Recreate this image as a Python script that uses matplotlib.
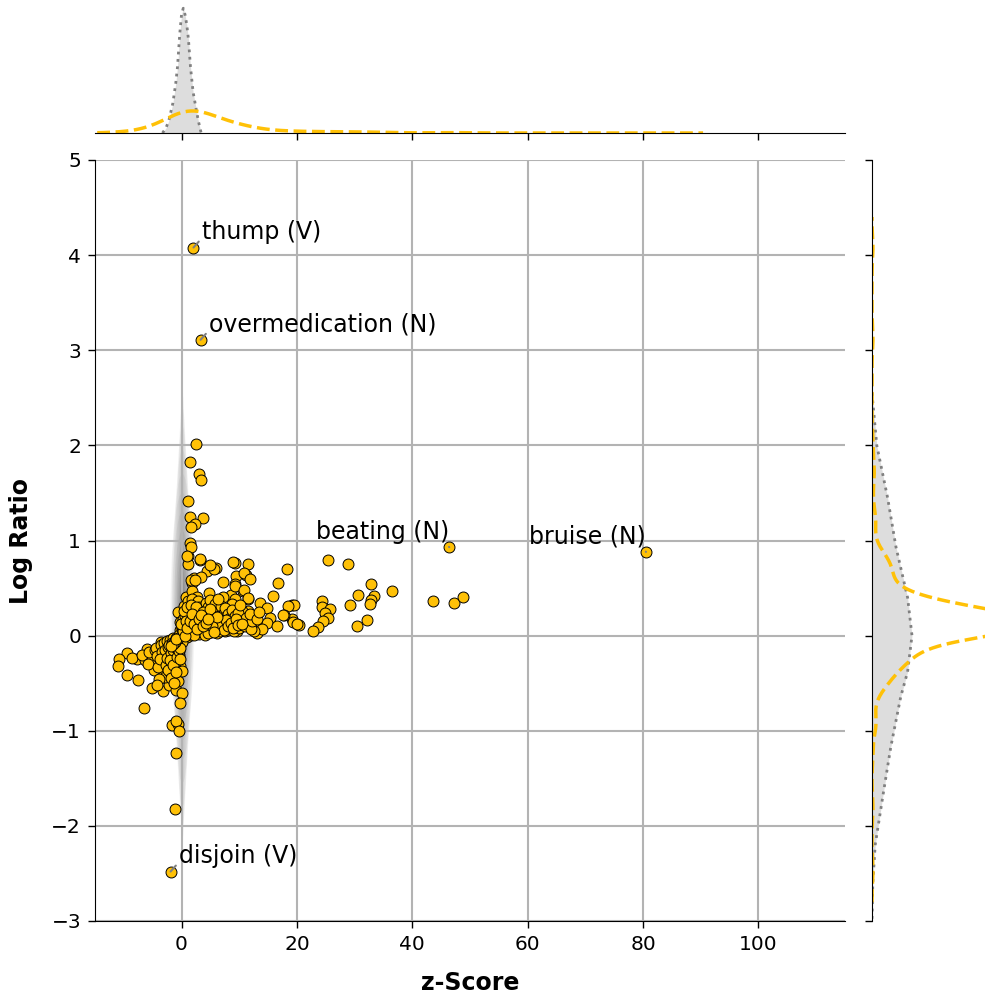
import numpy as np
import matplotlib
matplotlib.use("Agg")
import matplotlib.pyplot as plt
from matplotlib.patches import Ellipse

# --- word scores (z-score, log ratio) ---
z_score = [
    # labelled words
    2.07, 3.3, 46.4, 80.5, -1.9,
    # far right
    43.5, 47.2, 48.8, 25.3, 28.8, 32.9, 36.4, 30.6, 33.4, 32.8, 32.7, 29.2, 32.2, 30.4,
    24.4, 24.3, 25.8, 24.9, 25.3, 24.6, 23.7, 22.8, 18.3, 19.1, 19.5, 19.1, 20.3, 19.4,
    # middle
    16.8, 15.9, 18.4, 17.7, 20.0, 13.6, 14.8, 15.4, 13.1, 14.8, 16.5,
    11.5, 11.1, 9.3, 8.9, 9.5, 9.3, 10.7, 11.5, 11.6, 10.5, 7.2, 5.9, 4.4, 5.6, 3.2,
    1.1, 1.1, 2.1, 3.3, 1.8, 4.7, 8.5, 9.3, 0.7, 1.8, 2.7, -0.7, -0.2, 7.2, 6.7, 8.7,
    10.5, 8.7, 7.6, 9.6, 13.1, 10.8, 11.8, 9.3, 10.9, 11.6, 1.6, 17.6, 12.3, 14.0, 12.5,
    5.0, 2.4,
    # upper strand
    2.5, 1.4, 3.0, 3.4, 1.1, 1.4, 3.7, 2.4, 1.7, 1.4, 1.7, 1.0, 3.2,
    # lower left
    0.0, -3.5, -6.0, -9.5, -10.8, -11.1, -7.7, -6.4, -5.1, -9.4, -7.5, -5.1, -3.3,
    -6.5, -4.8, -3.1, -1.4, -0.2, -2.2, -1.0, 0.1, -0.35, -1.6, -0.6, -1.0, -0.5,
    -1.0, -1.15, -2.5, -4.2, -1.9, -3.1, -1.0, -0.7, 0.1, -0.5, -1.3, -0.2, 0.4, 1.0,
    -8.6, -6.9, -5.6, -4.6, -5.8, -4.0, -2.8, -2.0, -3.9, -4.3,
    # dense core, right fan
    0.3, 0.6, 0.5, 0.8, 0.4, 1.0, 1.2, 0.9, 1.3, 1.1, 1.2, 1.6, 1.5, 1.7, 1.6, 1.5, 1.8,
    2.0, 2.2, 2.1, 1.9, 2.3, 2.6, 2.5, 2.7, 2.4, 2.8, 3.0, 3.1, 2.9, 3.2, 3.0,
    3.6, 3.4, 3.7, 3.5, 4.0, 4.2, 3.9, 4.1, 4.3, 4.6, 4.5, 4.8, 4.6,
    5.1, 5.0, 5.3, 5.2, 5.0, 5.6, 5.7, 5.5, 5.8, 6.1, 6.2, 6.0, 6.3,
    6.6, 6.7, 6.5, 6.8, 6.4, 7.1, 7.0, 7.3, 7.6, 7.8, 7.5, 8.0, 8.2, 8.1,
    8.6, 8.4, 8.8, 9.1, 9.0, 9.3, 9.9, 10.1, 9.8, 10.2, 11.0, 11.2,
    12.0, 12.2, 11.9, 13.0, 13.4,
    # dense core, left band
    -4.5, -4.3, -3.6, -3.4, -3.7, -3.0, -2.9, -2.7, -2.5, -2.4, -2.6, -2.3,
    -2.0, -2.1, -1.9, -2.0, -1.8, -1.5, -1.6, -1.4, -1.5, -1.3,
    -1.0, -0.9, -1.1, -0.8, -1.0, -0.5, -0.6, -0.4, -0.5, -0.3,
    0.0, -0.1, 0.1, 0.2, -0.2,
    # hidden under the black core (overlapping markers)
    0.2, 0.5, 0.8, 1.1, 1.4, 1.7, 2.0, 2.3, 2.6, 2.9,
    3.2, 3.5, 3.8, 4.1, 4.4, 4.7, 5.0, 5.3, 5.6, 5.9,
    0.3, 0.7, 1.0, 1.3, 1.6, 1.9, 2.2, 2.5, 2.8, 3.1,
    3.4, 3.7, 4.0, 4.3, 4.6, 4.9, 5.2, 5.5, 5.8, 6.2,
    -0.3, -0.6, -0.9, -1.2, -1.5, -1.8, -0.2, -0.4, -0.7, -1.0,
    0.1, 0.4, 0.6, 0.9, 1.2, 1.5, 1.8, 2.1, 2.4, 2.7,
    6.5, 6.9, 7.3, 7.7, 8.1, 8.5, 8.9, 9.4, 9.8, 10.4,
    0.5, 0.9, 1.3, 1.7, 2.1, 2.5, 2.9, 3.3, 3.7, 4.1,
    4.5, 4.9, 5.3, 5.7, 6.1, 0.0, 0.3, 0.6, -0.1, 0.8,
    1.0, 1.4, 1.8, 2.2, 2.6, 3.0, 3.4, 3.8, 4.2, 4.6,
]
log_ratio = [
    4.08, 3.11, 0.93, 0.88, -2.48,
    0.36, 0.34, 0.41, 0.79, 0.75, 0.54, 0.47, 0.43, 0.42, 0.37, 0.33, 0.32, 0.16, 0.105,
    0.36, 0.30, 0.28, 0.24, 0.19, 0.15, 0.09, 0.05, 0.70, 0.32, 0.32, 0.17, 0.115, 0.14,
    0.55, 0.42, 0.31, 0.22, 0.12, 0.34, 0.29, 0.19, 0.12, 0.13, 0.10,
    0.75, 0.64, 0.76, 0.77, 0.63, 0.54, 0.47, 0.38, 0.26, 0.26, 0.56, 0.71, 0.68, 0.70, 0.80,
    0.84, 0.75, 0.61, 0.62, 0.55, 0.45, 0.43, 0.38, 0.41, 0.47, 0.41, 0.25, 0.14, 0.41, 0.29, 0.33,
    0.17, 0.15, 0.045, 0.045, 0.03, 0.66, 0.60, 0.52, 0.48, 0.40, 0.59, 0.22, 0.21, 0.07, 0.05,
    0.74, 0.59,
    2.01, 1.83, 1.70, 1.64, 1.42, 1.25, 1.24, 1.17, 1.14, 0.97, 0.93, 0.84, 0.81,
    0.13, -0.07, -0.14, -0.18, -0.25, -0.32, -0.245, -0.26, -0.25, -0.41, -0.47, -0.55, -0.585,
    -0.76, -0.36, -0.385, -0.42, -0.32, -0.515, -0.57, -0.60, -0.71, -0.94, -0.93, -0.90, -1.0,
    -1.23, -1.82, -0.18, -0.20, -0.29, -0.29, -0.27, -0.48, -0.375, -0.20, -0.11, -0.04, 0.03, 0.06,
    -0.23, -0.20, -0.17, -0.15, -0.30, -0.33, -0.44, -0.38, -0.46, -0.52,
    0.02, 0.09, 0.17, 0.24, 0.31, -0.01, 0.05, 0.12, 0.19, 0.27, 0.36, 0.01, 0.08, 0.13, 0.21, 0.29, 0.38,
    0.03, 0.09, 0.15, 0.24, 0.32, 0.04, 0.11, 0.18, 0.27, 0.36, 0.02, 0.07, 0.14, 0.22, 0.30,
    0.05, 0.12, 0.19, 0.28, 0.03, 0.09, 0.16, 0.24, 0.34, 0.06, 0.13, 0.21, 0.30,
    0.04, 0.11, 0.18, 0.27, 0.37, 0.07, 0.15, 0.23, 0.33, 0.03, 0.10, 0.17, 0.25,
    0.05, 0.13, 0.21, 0.31, 0.39, 0.08, 0.16, 0.24, 0.12, 0.20, 0.29, 0.06, 0.14, 0.23,
    0.09, 0.19, 0.27, 0.05, 0.13, 0.21, 0.08, 0.15, 0.24, 0.32, 0.10, 0.19,
    0.07, 0.15, 0.23, 0.18, 0.25,
    -0.13, -0.21, -0.10, -0.17, -0.25, -0.08, -0.15, -0.31, -0.06, -0.12, -0.23, -0.36,
    -0.05, -0.10, -0.18, -0.26, -0.45, -0.03, -0.08, -0.15, -0.31, -0.50,
    -0.02, -0.06, -0.12, -0.22, -0.38, -0.01, -0.04, -0.09, -0.16, -0.25,
    0.00, -0.03, -0.07, 0.04, -0.13,
    0.10, 0.14, 0.06, 0.20, 0.11, 0.17, 0.07, 0.13, 0.22, 0.09,
    0.15, 0.08, 0.21, 0.12, 0.17, 0.09, 0.14, 0.20, 0.10, 0.16,
    0.18, 0.03, 0.15, 0.09, 0.25, 0.05, 0.19, 0.08, 0.14, 0.26,
    0.06, 0.14, 0.19, 0.07, 0.24, 0.15, 0.06, 0.12, 0.19, 0.13,
    0.02, -0.02, -0.05, -0.07, -0.09, -0.11, 0.06, 0.01, -0.03, -0.04,
    0.07, 0.12, 0.21, 0.04, 0.16, 0.13, 0.10, 0.22, 0.16, 0.05,
    0.17, 0.11, 0.06, 0.16, 0.10, 0.13, 0.08, 0.17, 0.11, 0.12,
    0.26, 0.30, 0.03, 0.32, 0.01, 0.30, 0.20, 0.11, 0.25, 0.01,
    0.03, 0.28, 0.10, 0.04, 0.20, 0.09, 0.05, 0.00, 0.12, 0.15,
    0.08, 0.15, 0.23, 0.12, 0.07, 0.18, 0.22, 0.10, 0.13, 0.17,
]

labels = ["thump (V)", "overmedication (N)", "beating (N)", "bruise (N)", "disjoin (V)"]
label_side = ["left", "left", "right", "right", "left"]

# background (all words) marginal densities, relative heights
bg_z = [-3.3, -2.7, -2.2, -1.5, -1.0, -0.7, -0.3, 0.0, 0.3, 0.6, 0.9, 1.2, 1.55, 2.0, 2.5, 2.9, 3.4]
bg_z_rel = [0.0, 0.04, 0.10, 0.24, 0.40, 0.53, 0.80, 0.95, 1.0, 0.95, 0.87, 0.75, 0.53, 0.33, 0.20, 0.10, 0.0]
bg_lr = [2.55, 2.0, 1.45, 0.93, 0.4, 0.0, -0.38, -0.64, -1.17, -1.69, -2.2, -2.6, -3.0]
bg_lr_rel = [0.0, 0.12, 0.39, 0.6, 0.89, 1.0, 0.89, 0.72, 0.47, 0.27, 0.08, 0.02, 0.0]

# background 2d density, approximated by nested contour ellipses (half widths)
bg_half_z = [0.4, 0.7, 1.0, 1.3, 1.6, 1.9, 2.1, 1.8, 1.5, 1.2, 1.0, 0.8, 0.6, 0.45]
bg_half_lr = [2.45, 2.35, 2.2, 2.0, 1.75, 1.5, 1.3, 1.1, 0.9, 0.75, 0.6, 0.48, 0.38, 0.28]

yellow = "#FFC107"
z = np.array(z_score)
lr = np.array(log_ratio)


def kde(values, bw, n=400):
    grid = np.linspace(values.min() - 3 * bw, values.max() + 3 * bw, n)
    d = (grid[:, None] - values[None, :]) / bw
    dens = np.exp(-0.5 * d ** 2).sum(1) / (len(values) * bw * np.sqrt(2 * np.pi))
    return grid, dens


fig = plt.figure(figsize=(9.85, 9.98), dpi=100)
W, H = 985.0, 998.0
ax = fig.add_axes([95 / W, (H - 921) / H, 750 / W, 761 / H])
ax_top = fig.add_axes([95 / W, (H - 133) / H, 750 / W, 131 / H])
ax_right = fig.add_axes([872 / W, (H - 921) / H, 131 / W, 761 / H])

# background density in the joint plot
for hw, hh in zip(bg_half_z, bg_half_lr):
    ax.add_patch(Ellipse((0.15, 0.2), 2 * hw, 2 * hh, facecolor="black",
                         edgecolor="none", alpha=0.04, zorder=0.3))

ax.scatter(z, lr, s=62, color=yellow, edgecolor="black", linewidth=0.7, zorder=3)

for i, lab in enumerate(labels):
    if label_side[i] == "left":
        off, ha, rel = (5.8, 2.2), "left", (0.0, 0.25)
    else:
        off, ha, rel = (0.0, 2.2), "right", (0.95, 0.25)
    ax.annotate(lab, (z[i], lr[i]), xytext=off, textcoords="offset points",
                ha=ha, va="bottom", fontsize=17, zorder=4,
                arrowprops=dict(arrowstyle="-", color="gray", lw=1.5,
                                shrinkA=0, shrinkB=0, relpos=rel))

ax.set_xlim(-15, 115)
ax.set_ylim(-3, 5)
ax.set_xticks([0, 20, 40, 60, 80, 100])
ax.set_yticks(range(-3, 6))
ax.grid(True, color="#b3b3b3", lw=1.5)
ax.set_axisbelow("line")
ax.spines["top"].set_visible(False)
ax.spines["right"].set_visible(False)
ax.tick_params(labelsize=14.5, length=5, width=1, pad=5)
ax.set_xlabel("z-Score", fontsize=17, fontweight="bold", labelpad=12)
ax.set_ylabel("Log Ratio", fontsize=17, fontweight="bold", labelpad=13)

# top marginal
gz = np.array(bg_z)
gz_d = np.array(bg_z_rel) / np.trapezoid(bg_z_rel, bg_z)
ax_top.fill_between(gz, gz_d, color="#dddddd", lw=0)
ax_top.plot(gz, gz_d, ":", color="gray", lw=2)
xg, xd = kde(z, 3.3)
ax_top.plot(xg, xd, "--", color=yellow, lw=2.5)
ax_top.set_xlim(-15, 115)
ax_top.set_ylim(0, gz_d.max() * 1.05)

# right marginal
gl = np.array(bg_lr)
gl_d = np.array(bg_lr_rel) / abs(np.trapezoid(bg_lr_rel, bg_lr))
ax_right.fill_betweenx(gl, gl_d, color="#dddddd", lw=0)
ax_right.plot(gl_d, gl, ":", color="gray", lw=2)
yg, yd = kde(lr, 0.107)
ax_right.plot(yd, yg, "--", color=yellow, lw=2.5)
ax_right.set_ylim(-3, 5)
ax_right.set_xlim(0, gl_d.max() * 131 / 40)

for a in (ax_top, ax_right):
    for s in ("top", "right"):
        a.spines[s].set_visible(False)
ax_top.spines["left"].set_visible(False)
ax_right.spines["bottom"].set_visible(False)
ax_top.set_xticks([0, 20, 40, 60, 80, 100])
ax_top.set_yticks([])
ax_top.tick_params(labelbottom=False, length=5, width=1)
ax_right.set_yticks(range(-3, 6))
ax_right.set_xticks([])
ax_right.tick_params(labelleft=False, length=5, width=1)

fig.savefig("out.png", dpi=100)
